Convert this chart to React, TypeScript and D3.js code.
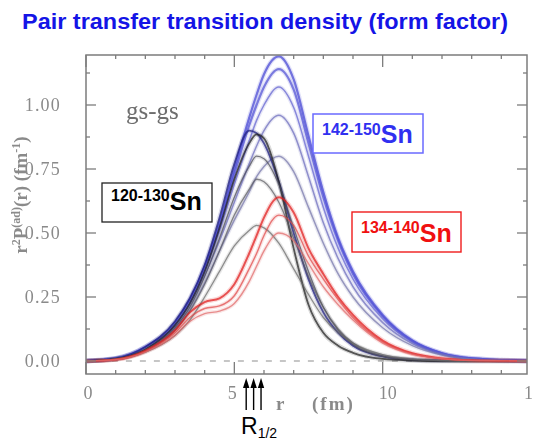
import React from "react";
import * as d3 from "d3";

// radial grid (fm) shared by every curve
const R_GRID = [0, 1, 2, 3, 3.5, 4, 4.5, 5, 5.5, 5.75, 6, 6.5, 7, 7.5, 8, 8.5, 9, 10, 11, 12, 13, 15];

// 142-150Sn
const SN142_150 = [
  [0, 0.01, 0.055, 0.15, 0.24, 0.37, 0.54, 0.75, 0.95, 1.04, 1.12, 1.19, 1.1, 0.88, 0.66, 0.48, 0.35, 0.18, 0.08, 0.03, 0.01, 0],
  [0, 0.01, 0.053, 0.145, 0.235, 0.36, 0.53, 0.73, 0.92, 1.0, 1.07, 1.14, 1.06, 0.85, 0.64, 0.47, 0.34, 0.175, 0.078, 0.03, 0.01, 0],
  [0, 0.01, 0.052, 0.14, 0.23, 0.355, 0.51, 0.69, 0.86, 0.94, 1.0, 1.07, 0.99, 0.8, 0.6, 0.44, 0.32, 0.165, 0.074, 0.028, 0.009, 0],
  [0, 0.01, 0.05, 0.135, 0.22, 0.335, 0.47, 0.62, 0.77, 0.84, 0.9, 0.96, 0.89, 0.72, 0.54, 0.4, 0.29, 0.15, 0.068, 0.026, 0.008, 0],
  [0, 0.009, 0.047, 0.125, 0.2, 0.305, 0.43, 0.55, 0.66, 0.72, 0.76, 0.8, 0.74, 0.6, 0.46, 0.34, 0.25, 0.13, 0.06, 0.023, 0.007, 0],
];
const SN142_150_COLORS = ["#4545d4", "#5252d6", "#6262d0", "#6c6cbc", "#7676aa"];

// 120-130Sn
const SN120_130 = [
  [0, 0.01, 0.055, 0.155, 0.245, 0.375, 0.56, 0.77, 0.9, 0.89, 0.85, 0.7, 0.5, 0.32, 0.19, 0.11, 0.06, 0.018, 0.005, 0.001, 0, 0],
  [0, 0.008, 0.045, 0.14, 0.225, 0.35, 0.52, 0.71, 0.85, 0.885, 0.87, 0.7, 0.44, 0.22, 0.11, 0.06, 0.032, 0.008, 0.002, 0, 0, 0],
  [0, 0.008, 0.043, 0.13, 0.21, 0.33, 0.48, 0.64, 0.76, 0.8, 0.79, 0.69, 0.52, 0.35, 0.21, 0.12, 0.065, 0.018, 0.005, 0.001, 0, 0],
  [0, 0.008, 0.04, 0.12, 0.195, 0.3, 0.43, 0.57, 0.67, 0.71, 0.7, 0.62, 0.48, 0.33, 0.21, 0.125, 0.07, 0.02, 0.006, 0.001, 0, 0],
  [0, 0.007, 0.035, 0.1, 0.16, 0.25, 0.35, 0.45, 0.51, 0.53, 0.52, 0.46, 0.36, 0.26, 0.17, 0.11, 0.07, 0.025, 0.008, 0.002, 0, 0],
];
const SN120_130_COLORS = ["#1c1c7c", "#1e1e1e", "#4c4c58", "#5c5c62", "#6a6a6a"];

// 134-140Sn
const SN134_140 = [
  [0, 0.006, 0.04, 0.12, 0.19, 0.23, 0.245, 0.3, 0.42, 0.49, 0.56, 0.64, 0.58, 0.44, 0.34, 0.25, 0.18, 0.08, 0.03, 0.01, 0.003, 0],
  [0, 0.006, 0.038, 0.11, 0.17, 0.205, 0.215, 0.255, 0.36, 0.42, 0.49, 0.57, 0.53, 0.41, 0.32, 0.24, 0.17, 0.075, 0.028, 0.01, 0.003, 0],
  [0, 0.005, 0.035, 0.1, 0.155, 0.185, 0.195, 0.225, 0.31, 0.37, 0.43, 0.5, 0.47, 0.38, 0.29, 0.22, 0.16, 0.07, 0.026, 0.009, 0.002, 0],
];
const SN134_140_COLORS = ["#e01c1c", "#e04848", "#e06a6a"];

// half-density radii marked under the axis (fm)
const R_HALF = [5.4, 5.65, 5.9];

const X_TICKS = [0, 5, 10, 15];
const Y_TICKS = [0, 0.25, 0.5, 0.75, 1.0];

const W = 533;
const H = 443;
const FRAME = { left: 86, right: 527, top: 55, bottom: 374 };

export default function App() {
  const x = d3.scaleLinear().domain([0, 15]).range([86, 531]);
  const y = d3.scaleLinear().domain([0, 1]).range([361, 105]);

  const line = d3
    .line<number>()
    .x((_, i) => x(R_GRID[i]))
    .y((v) => y(v))
    .curve(d3.curveMonotoneX);

  const xMinor = d3.range(0, 15, 1);
  const yMinor = d3.range(0, 1.2, 0.125);

  const serif = "'Liberation Serif', 'DejaVu Serif', serif";
  const sans = "'Liberation Sans', Arial, sans-serif";
  const axisGray = "#7c7c7c";

  const curves: { d: string; color: string; w: number; key: string }[] = [];
  SN142_150.forEach((s, i) =>
    curves.push({ d: line(s) || "", color: SN142_150_COLORS[i], w: i < 2 ? 2.2 : 1.5, key: "b" + i })
  );
  SN120_130.forEach((s, i) =>
    curves.push({ d: line(s) || "", color: SN120_130_COLORS[i], w: i < 2 ? 1.8 : 1.3, key: "g" + i })
  );
  SN134_140.forEach((s, i) =>
    curves.push({ d: line(s) || "", color: SN134_140_COLORS[i], w: i === 0 ? 2.0 : 1.4, key: "r" + i })
  );

  return (
    <svg
      width={W}
      height={H}
      viewBox={`0 0 ${W} ${H}`}
      style={{ position: "absolute", left: 0, top: 0, background: "#fff" }}
    >
      <defs>
        <clipPath id="plotClip">
          <rect x={FRAME.left} y={FRAME.top} width={FRAME.right - FRAME.left} height={FRAME.bottom - FRAME.top} />
        </clipPath>
        <filter id="soft" x="-5%" y="-5%" width="110%" height="110%">
          <feGaussianBlur stdDeviation="0.55" />
        </filter>
      </defs>

      <text
        x={22}
        y={29}
        fontFamily={sans}
        fontWeight="bold"
        fontSize={22.5}
        textLength={486}
        lengthAdjust="spacingAndGlyphs"
        fill="#1414e6"
      >
        Pair transfer transition density (form factor)
      </text>

      <g filter="url(#soft)">
        {/* zero reference */}
        <line
          x1={x(0.4)}
          x2={x(11)}
          y1={y(0)}
          y2={y(0)}
          stroke="#b4b4b4"
          strokeWidth={1.6}
          strokeDasharray="6 8"
        />

        <g clipPath="url(#plotClip)" fill="none">
          {curves.map((c) => (
            <path key={c.key + "h"} d={c.d} stroke={c.color} strokeWidth={c.w + 2.6} strokeOpacity={0.16} />
          ))}
          {curves.map((c) => (
            <path key={c.key} d={c.d} stroke={c.color} strokeWidth={c.w} strokeOpacity={0.72} />
          ))}
        </g>

        {/* frame */}
        <rect
          x={FRAME.left}
          y={FRAME.top}
          width={FRAME.right - FRAME.left}
          height={FRAME.bottom - FRAME.top}
          fill="none"
          stroke={axisGray}
          strokeWidth={1.5}
        />

        {/* x ticks, bottom and top */}
        {xMinor.map((t) => {
          const major = X_TICKS.includes(t);
          const len = major ? 12 : 4;
          return (
            <g key={"xt" + t} stroke={axisGray} strokeWidth={1.3}>
              <line x1={x(t)} x2={x(t)} y1={FRAME.bottom} y2={FRAME.bottom - len} />
              <line x1={x(t)} x2={x(t)} y1={FRAME.top} y2={FRAME.top + len} />
            </g>
          );
        })}
        {/* y ticks, left and right */}
        {yMinor.map((t, i) => {
          const major = i % 2 === 0;
          const len = major ? 10 : 4;
          return (
            <g key={"yt" + i} stroke={axisGray} strokeWidth={1.3}>
              <line x1={FRAME.left} x2={FRAME.left + len} y1={y(t)} y2={y(t)} />
              <line x1={FRAME.right} x2={FRAME.right - len} y1={y(t)} y2={y(t)} />
            </g>
          );
        })}

        {X_TICKS.map((t) => (
          <text
            key={"xl" + t}
            x={x(t) + (t === 5 ? -2 : t === 10 ? 5 : 2)}
            y={399}
            textAnchor="middle"
            fontFamily={serif}
            fontSize={18}
            fill="#8a8a8a"
          >
            {t}
          </text>
        ))}
        {Y_TICKS.map((t) => (
          <text
            key={"yl" + t}
            x={61}
            y={y(t) + 6}
            textAnchor="end"
            fontFamily={serif}
            fontSize={18}
            letterSpacing={1.2}
            fill="#8a8a8a"
          >
            {t.toFixed(2)}
          </text>
        ))}

        <text x={276} y={410} fontFamily={serif} fontWeight="bold" fontSize={19} fill="#8a8a8a">
          r
        </text>
        <text x={312} y={410} fontFamily={serif} fontWeight="bold" fontSize={19} letterSpacing={2} fill="#8a8a8a">
          (fm)
        </text>

        <text
          transform="translate(27,195) rotate(-90)"
          textAnchor="middle"
          fontFamily={serif}
          fontWeight="bold"
          fontSize={19}
          fill="#8a8a8a"
        >
          r<tspan dy={-7} fontSize={12}>2</tspan>
          <tspan dy={7}>P</tspan>
          <tspan dy={-7} fontSize={12}>(ad)</tspan>
          <tspan dy={7}>(r) (fm</tspan>
          <tspan dy={-7} fontSize={12}>-1</tspan>
          <tspan dy={7}>)</tspan>
        </text>

        <text x={126} y={119} fontFamily={serif} fontSize={25} fill="#6e6e6e">
          gs-gs
        </text>
      </g>

      {/* isotope labels */}
      <rect x={313} y={114} width={110} height={39} fill="#fff" stroke="#6a6aff" strokeWidth={1.5} />
      <text x={322} y={135} fontFamily={sans} fontWeight="bold" fontSize={16} fill="#3030f0">
        142-150<tspan dy={8} fontSize={25}>Sn</tspan>
      </text>

      <rect x={102} y={183} width={110} height={39} fill="#fff" stroke="#222" strokeWidth={1.3} />
      <text x={111} y={201} fontFamily={sans} fontWeight="bold" fontSize={16} fill="#000">
        120-130<tspan dy={9} fontSize={25}>Sn</tspan>
      </text>

      <rect x={352} y={212} width={109} height={40} fill="#fff" stroke="#f01c1c" strokeWidth={1.4} />
      <text x={361} y={233} fontFamily={sans} fontWeight="bold" fontSize={16} fill="#f01010">
        134-140<tspan dy={9} fontSize={25}>Sn</tspan>
      </text>

      {/* R_1/2 markers */}
      {R_HALF.map((r) => (
        <g key={"rh" + r}>
          <line x1={x(r)} x2={x(r)} y1={410} y2={386} stroke="#000" strokeWidth={1.4} />
          <path d={`M${x(r)},378 L${x(r) - 3.2},388 L${x(r) + 3.2},388 Z`} fill="#000" />
        </g>
      ))}
      <text x={241} y={434} fontFamily={sans} fontSize={23} fill="#000">
        R<tspan dy={4} fontSize={14}>1/2</tspan>
      </text>
    </svg>
  );
}
